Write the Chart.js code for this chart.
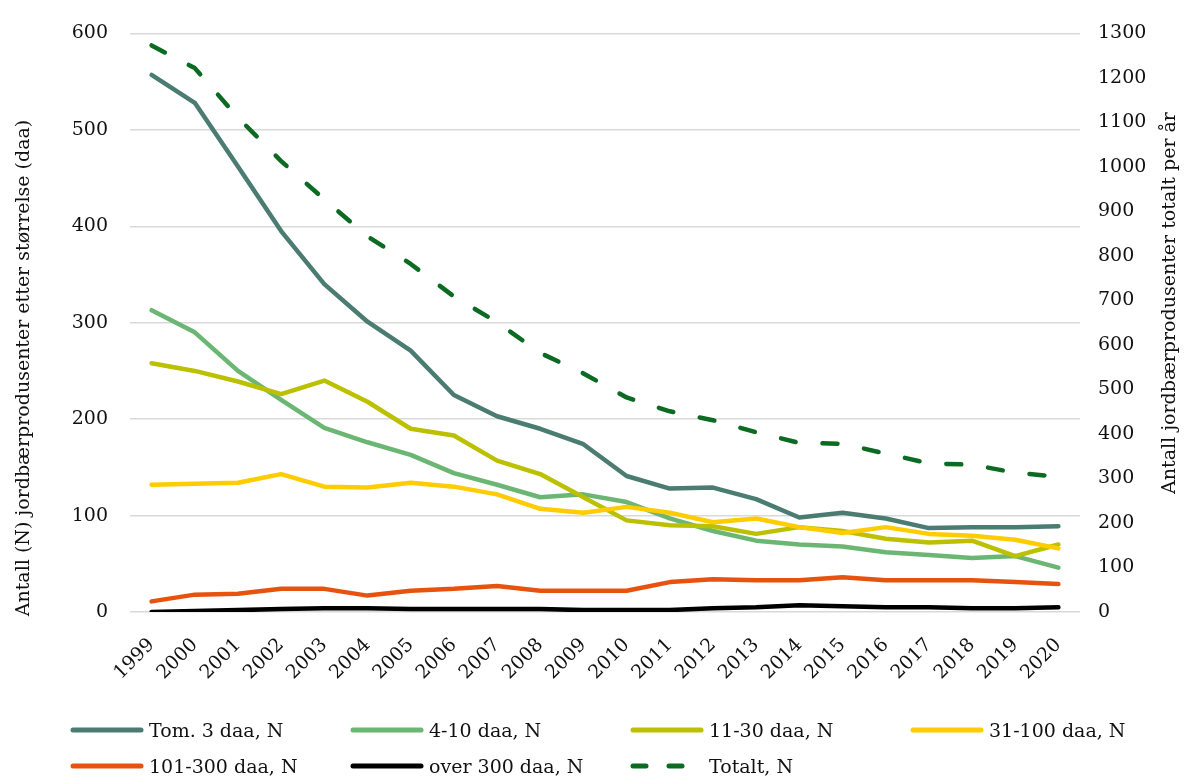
<!DOCTYPE html>
<html>
<head>
<meta charset="utf-8">
<script src="https://cdn.jsdelivr.net/npm/chart.js@4/dist/chart.umd.min.js"></script>
<style>
  html, body { margin: 0; padding: 0; background: #fff; }
  #wrap { position: relative; width: 1185px; height: 776px; }
  #c { position: absolute; left: 0; top: 0; }
  .lg { position: absolute; display: flex; align-items: center; font-family: 'DejaVu Serif', serif; font-size: 19px; color: #111; white-space: nowrap; }
  .lg svg { margin-right: 5px; }
</style>
</head>
<body>
<div id="wrap">
  <canvas id="c" width="1185" height="776"></canvas>
  <div id="legend"></div>
</div>
<script>
const years = ['1999','2000','2001','2002','2003','2004','2005','2006','2007','2008','2009','2010','2011','2012','2013','2014','2015','2016','2017','2018','2019','2020'];
const tom3   = [557, 528, 462, 395, 340, 301, 271, 225, 203, 190, 174, 141, 128, 129, 117, 98, 103, 97, 87, 88, 88, 89];
const d4_10  = [313, 290, 250, 220, 191, 176, 163, 144, 132, 119, 122, 114, 97, 84, 74, 70, 68, 62, 59, 56, 58, 46];
const d11_30 = [258, 250, 239, 226, 240, 218, 190, 183, 157, 143, 119, 95, 90, 89, 81, 88, 84, 76, 72, 74, 58, 70];
const d31_100= [132, 133, 134, 143, 130, 129, 134, 130, 122, 107, 103, 109, 103, 93, 97, 88, 82, 88, 81, 79, 75, 66];
const d101_300=[11, 18, 19, 24, 24, 17, 22, 24, 27, 22, 22, 22, 31, 34, 33, 33, 36, 33, 33, 33, 31, 29];
const over300= [0, 1, 2, 3, 4, 4, 3, 3, 3, 3, 2, 2, 2, 4, 5, 7, 6, 5, 5, 4, 4, 5];
const totalt = [1273, 1222, 1111, 1013, 927, 844, 782, 709, 651, 582, 536, 482, 451, 431, 404, 380, 378, 356, 334, 331, 313, 304];
const leftTicks = [0, 100, 200, 300, 400, 500, 600];
const rightTicks = [0,100,200,300,400,500,600,700,800,900,1000,1100,1200,1300];
const seriesNames = ['Tom. 3 daa, N', '4-10 daa, N', '11-30 daa, N', '31-100 daa, N', '101-300 daa, N', 'over 300 daa, N', 'Totalt, N'];
const leftTitle = 'Antall (N) jordbærprodusenter etter størrelse (daa)';
const rightTitle = 'Antall jordbærprodusenter totalt per år';

const FONT = "'DejaVu Serif', serif";
const colors = ['#4A7C71', '#6BB673', '#BBC000', '#FFCC00', '#E8520F', '#000000', '#0B6B23'];
const values = [tom3, d4_10, d11_30, d31_100, d101_300, over300, totalt];

const datasets = values.map((v, i) => ({
  label: seriesNames[i],
  data: v,
  yAxisID: i === 6 ? 'y1' : 'y',
  borderColor: colors[i],
  backgroundColor: colors[i],
  borderWidth: 4.5,
  borderCapStyle: 'round',
  borderJoinStyle: 'round',
  borderDash: i === 6 ? [15, 27] : [],
  pointRadius: 0,
  tension: 0,
  fill: false,
  order: 10 - i
}));

const titlePlugin = {
  id: 'axisTitles',
  afterDraw(chart) {
    const ctx = chart.ctx;
    ctx.save();
    ctx.font = '19px ' + FONT;
    ctx.fillStyle = '#111';
    ctx.textAlign = 'center';
    ctx.textBaseline = 'middle';
    ctx.translate(24, 368);
    ctx.rotate(-Math.PI / 2);
    ctx.fillText(leftTitle, 0, 0);
    ctx.restore();
    ctx.save();
    ctx.font = '19px ' + FONT;
    ctx.fillStyle = '#111';
    ctx.textAlign = 'center';
    ctx.textBaseline = 'middle';
    ctx.translate(1170, 303);
    ctx.rotate(-Math.PI / 2);
    ctx.fillText(rightTitle, 0, 0);
    ctx.restore();
  }
};

const chart = new Chart(document.getElementById('c'), {
  type: 'line',
  data: { labels: years, datasets },
  options: {
    responsive: false,
    animation: false,
    layout: { padding: { top: 27, left: 0, right: 0, bottom: 0 } },
    plugins: { legend: { display: false }, tooltip: { enabled: false } },
    scales: {
      x: {
        offset: true,
        grid: { display: false, drawTicks: false },
        border: { display: false },
        ticks: { font: { family: FONT, size: 19 }, color: '#111', minRotation: 45, maxRotation: 45, padding: 22, autoSkip: false },
        afterFit(s) { s.height = 164; }
      },
      y: {
        position: 'left',
        min: 0, max: 600,
        afterBuildTicks(s) { s.ticks = leftTicks.map(v => ({ value: v })); },
        grid: { color: '#D9D9D9', lineWidth: 1.5, drawTicks: false },
        border: { display: false },
        ticks: { font: { family: FONT, size: 19 }, color: '#111', padding: 22, callback: v => String(v) },
        afterFit(s) { s.width = 130; }
      },
      y1: {
        position: 'right',
        min: 0, max: 1300,
        afterBuildTicks(s) { s.ticks = rightTicks.map(v => ({ value: v })); },
        grid: { display: false, drawTicks: false },
        border: { display: false },
        ticks: { font: { family: FONT, size: 19 }, color: '#111', padding: 18, callback: v => String(v) },
        afterFit(s) { s.width = 105; }
      }
    }
  },
  plugins: [titlePlugin]
});

// HTML legend in Excel-like grid
const legend = document.getElementById('legend');
const colX = [70, 350, 630, 910];
const rowY = [730, 766];
datasets.forEach((ds, i) => {
  const col = i < 4 ? i : i - 4;
  const row = i < 4 ? 0 : 1;
  const d = document.createElement('div');
  d.className = 'lg';
  d.style.left = colX[col] + 'px';
  d.style.top = (rowY[row] - 14) + 'px';
  d.style.height = '28px';
  const dash = ds.borderDash.length ? 'stroke-dasharray="13 23"' : '';
  d.innerHTML = '<svg width="74" height="10"><line x1="3" y1="5" x2="71" y2="5" stroke="' + ds.borderColor + '" stroke-width="5" stroke-linecap="round" ' + dash + '/></svg><span>' + ds.label + '</span>';
  legend.appendChild(d);
});
</script>
</body>
</html>
